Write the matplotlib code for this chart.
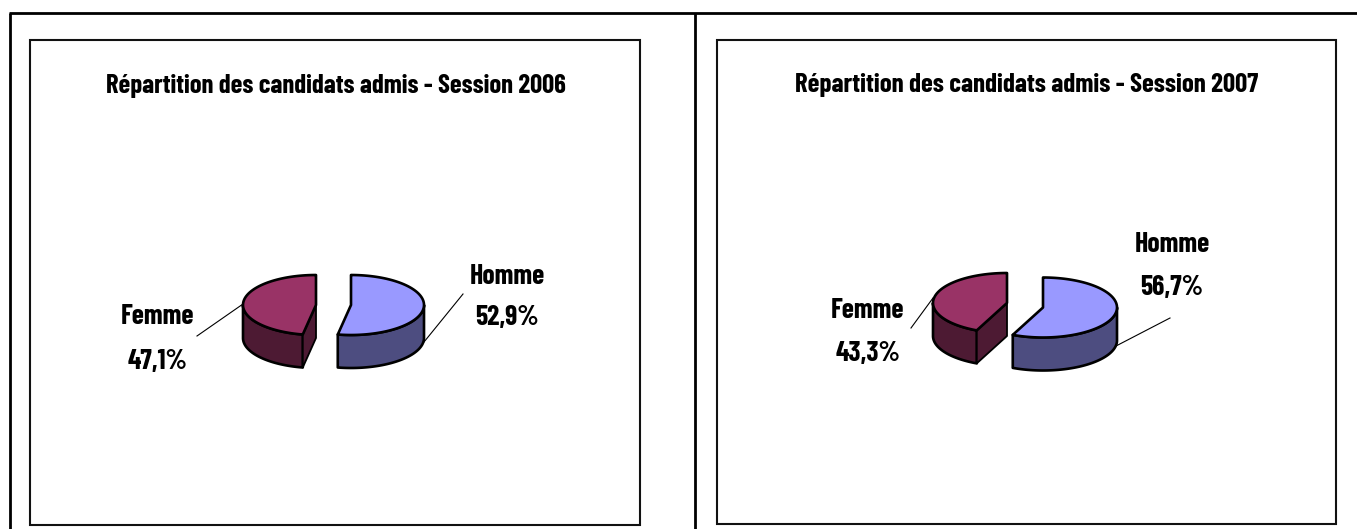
import numpy as np
import matplotlib
matplotlib.use("Agg")
import matplotlib.pyplot as plt
from matplotlib.patches import Polygon, Rectangle

W, H = 1357, 529
FONT = ['Barlow Condensed', 'Liberation Sans', 'DejaVu Sans']

titles = ["Répartition des candidats admis - Session 2006",
          "Répartition des candidats admis - Session 2007"]
categories = ["Homme", "Femme"]
shares_2006 = [52.9, 47.1]
shares_2007 = [56.7, 43.3]
value_labels_2006 = ["52,9%", "47,1%"]
value_labels_2007 = ["56,7%", "43,3%"]

TOP = {"Homme": "#9999FF", "Femme": "#993366"}
SIDE = {"Homme": "#4D4D80", "Femme": "#4D1A33"}

fig = plt.figure(figsize=(W / 100, H / 100), dpi=100)
ax = fig.add_axes([0, 0, 1, 1])
ax.set_xlim(0, W)
ax.set_ylim(H, 0)
ax.axis("off")


def pt(c, rx, ry, a):
    a = np.asarray(a)
    return np.column_stack([c[0] + rx * np.sin(a), c[1] - ry * np.cos(a)])


def slice3d(c, rx, ry, depth, a0, a1, top, side):
    arc = np.linspace(a0, a1, 160)
    rim = pt(c, rx, ry, arc)
    lw = 1.9
    v0, v1 = max(a0, np.pi / 2), min(a1, 3 * np.pi / 2)
    if v1 > v0:
        va = np.linspace(v0, v1, 120)
        r = pt(c, rx, ry, va)
        wall = np.vstack([r, (r + [0, depth])[::-1]])
        ax.add_patch(Polygon(wall, closed=True, fc=side, ec="black", lw=lw, joinstyle="round", zorder=2))
    if a0 > np.pi:
        p = pt(c, rx, ry, [a0])[0]
        q = np.array(c, float)
        cut = np.array([p, q, q + [0, depth], p + [0, depth]])
        ax.add_patch(Polygon(cut, closed=True, fc=side, ec="black", lw=1.3, joinstyle="round", zorder=2))
    face = np.vstack([[c], rim])
    ax.add_patch(Polygon(face, closed=True, fc=top, ec="black", lw=lw, joinstyle="round", zorder=3))


def panel(frame, title_xy, title, title_size, shares, vlabels, centers, rx, ry, depth, labels, leaders):
    x0, y0, x1, y1 = frame
    ax.add_patch(Rectangle((x0, y0), x1 - x0, y1 - y0, fc="white", ec="#111111", lw=1.5, zorder=1))
    ax.text(*title_xy, title, ha="center", va="center", fontsize=title_size, fontweight="bold",
            family=FONT, color="black", zorder=5)
    a = 2 * np.pi * shares[0] / sum(shares)
    slice3d(centers[0], rx, ry, depth, 0, a, TOP["Homme"], SIDE["Homme"])
    slice3d(centers[1], rx, ry, depth, a, 2 * np.pi, TOP["Femme"], SIDE["Femme"])
    for i, cat in enumerate(categories):
        (lx, ly1, ly2) = labels[i]
        ax.text(lx, ly1, cat, ha="center", va="center", fontsize=20, fontweight="bold",
                family=FONT, color="black", zorder=5)
        ax.text(lx, ly2, vlabels[i], ha="center", va="center", fontsize=20, fontweight="bold",
                family=FONT, color="black", zorder=5)
        ax.plot(*zip(*leaders[i]), color="black", lw=0.8, zorder=4)


ax.plot([9.5, 9.5], [529, 13], color="black", lw=2, zorder=0, solid_capstyle="butt")
ax.plot([8.5, W], [13, 13], color="black", lw=2, zorder=0, solid_capstyle="butt")
ax.plot([695, 695], [13, 529], color="black", lw=2, zorder=0, solid_capstyle="butt")

panel((30, 40, 640, 525), (336, 86), titles[0], 19.2, shares_2006, value_labels_2006,
      [(351, 305), (316, 305)], 73, 30, 33, [(507, 276, 318), (158, 317, 362)],
      [[(463, 294), (424, 342)], [(197, 336), (243, 304)]])
panel((717, 40, 1336, 524), (1027, 85), titles[1], 19.4, shares_2007, value_labels_2007,
      [(1043, 307.5), (1007, 303)], 74, 30, 33, [(1172, 245, 287), (868, 310, 354)],
      [[(1170, 318), (1116, 346)], [(911, 328), (933, 298)]])

fig.savefig("out.png", dpi=100)
